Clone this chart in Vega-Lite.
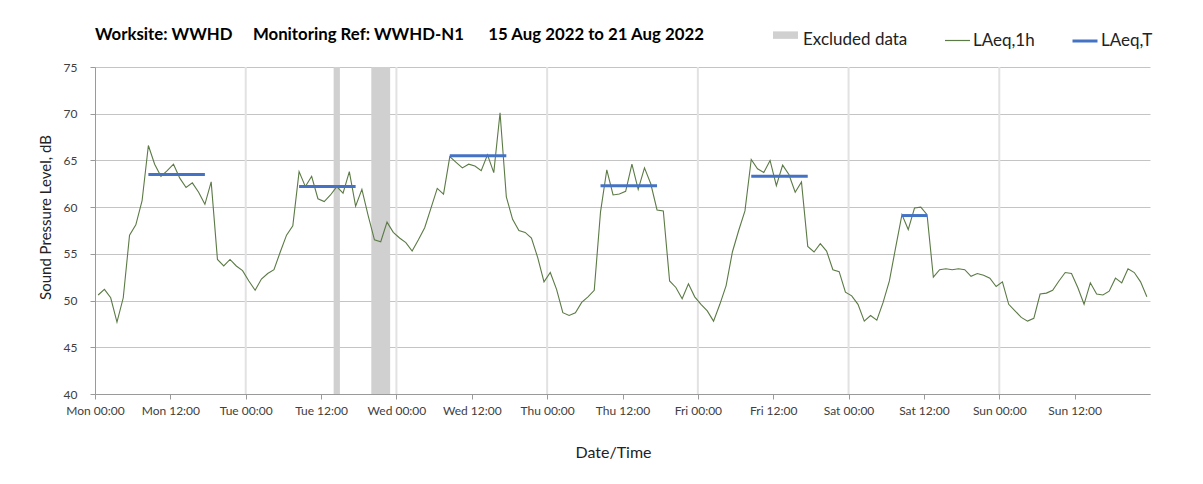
{
  "$schema": "https://vega.github.io/schema/vega-lite/v6.json",
  "width": 1055,
  "height": 327,
  "autosize": {"type": "none"},
  "padding": {"left": 95, "top": 67, "right": 53, "bottom": 90},
  "background": "white",
  "config": {"font": "Lato", "view": {"stroke": null}},
  "title": {
    "text": "Worksite: WWHD\u00a0\u00a0\u00a0\u00a0 Monitoring Ref: WWHD-N1\u00a0\u00a0\u00a0\u00a0\u00a0 15 Aug 2022 to 21 Aug 2022",
    "anchor": "start",
    "frame": "group",
    "fontSize": 16.8,
    "fontWeight": "bold",
    "color": "#000000",
    "offset": 24,
    "dy": 41
  },
  "datasets": {
    "days": [
      {"d": "2022-08-16T00:00"}, {"d": "2022-08-17T00:00"}, {"d": "2022-08-18T00:00"},
      {"d": "2022-08-19T00:00"}, {"d": "2022-08-20T00:00"}, {"d": "2022-08-21T00:00"}
    ],
    "excluded": [
      {"start": "2022-08-16T14:00", "end": "2022-08-16T15:00"},
      {"start": "2022-08-16T20:00", "end": "2022-08-16T23:00"}
    ],
    "laeqT": [
      {"start": "2022-08-15T08:30", "end": "2022-08-15T17:30", "level": 63.5},
      {"start": "2022-08-16T08:30", "end": "2022-08-16T17:30", "level": 62.2},
      {"start": "2022-08-17T08:30", "end": "2022-08-17T17:30", "level": 65.5},
      {"start": "2022-08-18T08:30", "end": "2022-08-18T17:30", "level": 62.3},
      {"start": "2022-08-19T08:30", "end": "2022-08-19T17:30", "level": 63.3},
      {"start": "2022-08-20T08:30", "end": "2022-08-20T12:30", "level": 59.1}
    ],
    "hourly": [
      {"t": "2022-08-15T00:30", "laeq": 50.6}, {"t": "2022-08-15T01:30", "laeq": 51.2}, {"t": "2022-08-15T02:30", "laeq": 50.3}, {"t": "2022-08-15T03:30", "laeq": 47.7},
      {"t": "2022-08-15T04:30", "laeq": 50.3}, {"t": "2022-08-15T05:30", "laeq": 57.0}, {"t": "2022-08-15T06:30", "laeq": 58.1}, {"t": "2022-08-15T07:30", "laeq": 60.7},
      {"t": "2022-08-15T08:30", "laeq": 66.6}, {"t": "2022-08-15T09:30", "laeq": 64.6}, {"t": "2022-08-15T10:30", "laeq": 63.3}, {"t": "2022-08-15T11:30", "laeq": 63.9},
      {"t": "2022-08-15T12:30", "laeq": 64.6}, {"t": "2022-08-15T13:30", "laeq": 63.1}, {"t": "2022-08-15T14:30", "laeq": 62.1}, {"t": "2022-08-15T15:30", "laeq": 62.6},
      {"t": "2022-08-15T16:30", "laeq": 61.6}, {"t": "2022-08-15T17:30", "laeq": 60.3}, {"t": "2022-08-15T18:30", "laeq": 62.7}, {"t": "2022-08-15T19:30", "laeq": 54.4},
      {"t": "2022-08-15T20:30", "laeq": 53.7}, {"t": "2022-08-15T21:30", "laeq": 54.4}, {"t": "2022-08-15T22:30", "laeq": 53.7}, {"t": "2022-08-15T23:30", "laeq": 53.2},
      {"t": "2022-08-16T00:30", "laeq": 52.1}, {"t": "2022-08-16T01:30", "laeq": 51.1}, {"t": "2022-08-16T02:30", "laeq": 52.3}, {"t": "2022-08-16T03:30", "laeq": 52.9},
      {"t": "2022-08-16T04:30", "laeq": 53.3}, {"t": "2022-08-16T05:30", "laeq": 55.2}, {"t": "2022-08-16T06:30", "laeq": 57.0}, {"t": "2022-08-16T07:30", "laeq": 58.0},
      {"t": "2022-08-16T08:30", "laeq": 63.8}, {"t": "2022-08-16T09:30", "laeq": 62.2}, {"t": "2022-08-16T10:30", "laeq": 63.3}, {"t": "2022-08-16T11:30", "laeq": 60.9},
      {"t": "2022-08-16T12:30", "laeq": 60.6}, {"t": "2022-08-16T13:30", "laeq": 61.3}, {"t": "2022-08-16T14:30", "laeq": 62.2}, {"t": "2022-08-16T15:30", "laeq": 61.5},
      {"t": "2022-08-16T16:30", "laeq": 63.8}, {"t": "2022-08-16T17:30", "laeq": 60.1}, {"t": "2022-08-16T18:30", "laeq": 61.9}, {"t": "2022-08-16T19:30", "laeq": 59.1},
      {"t": "2022-08-16T20:30", "laeq": 56.5}, {"t": "2022-08-16T21:30", "laeq": 56.3}, {"t": "2022-08-16T22:30", "laeq": 58.4}, {"t": "2022-08-16T23:30", "laeq": 57.3},
      {"t": "2022-08-17T00:30", "laeq": 56.7}, {"t": "2022-08-17T01:30", "laeq": 56.2}, {"t": "2022-08-17T02:30", "laeq": 55.3}, {"t": "2022-08-17T03:30", "laeq": 56.5},
      {"t": "2022-08-17T04:30", "laeq": 57.8}, {"t": "2022-08-17T05:30", "laeq": 59.9}, {"t": "2022-08-17T06:30", "laeq": 62.0}, {"t": "2022-08-17T07:30", "laeq": 61.4},
      {"t": "2022-08-17T08:30", "laeq": 65.4}, {"t": "2022-08-17T09:30", "laeq": 64.8}, {"t": "2022-08-17T10:30", "laeq": 64.2}, {"t": "2022-08-17T11:30", "laeq": 64.6},
      {"t": "2022-08-17T12:30", "laeq": 64.4}, {"t": "2022-08-17T13:30", "laeq": 63.9}, {"t": "2022-08-17T14:30", "laeq": 65.6}, {"t": "2022-08-17T15:30", "laeq": 63.7},
      {"t": "2022-08-17T16:30", "laeq": 70.1}, {"t": "2022-08-17T17:30", "laeq": 61.1}, {"t": "2022-08-17T18:30", "laeq": 58.7}, {"t": "2022-08-17T19:30", "laeq": 57.5},
      {"t": "2022-08-17T20:30", "laeq": 57.3}, {"t": "2022-08-17T21:30", "laeq": 56.7}, {"t": "2022-08-17T22:30", "laeq": 54.6}, {"t": "2022-08-17T23:30", "laeq": 52.0},
      {"t": "2022-08-18T00:30", "laeq": 53.0}, {"t": "2022-08-18T01:30", "laeq": 51.2}, {"t": "2022-08-18T02:30", "laeq": 48.7}, {"t": "2022-08-18T03:30", "laeq": 48.4},
      {"t": "2022-08-18T04:30", "laeq": 48.7}, {"t": "2022-08-18T05:30", "laeq": 49.8}, {"t": "2022-08-18T06:30", "laeq": 50.4}, {"t": "2022-08-18T07:30", "laeq": 51.1},
      {"t": "2022-08-18T08:30", "laeq": 59.5}, {"t": "2022-08-18T09:30", "laeq": 64.0}, {"t": "2022-08-18T10:30", "laeq": 61.3}, {"t": "2022-08-18T11:30", "laeq": 61.4},
      {"t": "2022-08-18T12:30", "laeq": 61.7}, {"t": "2022-08-18T13:30", "laeq": 64.6}, {"t": "2022-08-18T14:30", "laeq": 61.9}, {"t": "2022-08-18T15:30", "laeq": 64.2},
      {"t": "2022-08-18T16:30", "laeq": 62.5}, {"t": "2022-08-18T17:30", "laeq": 59.7}, {"t": "2022-08-18T18:30", "laeq": 59.6}, {"t": "2022-08-18T19:30", "laeq": 52.1},
      {"t": "2022-08-18T20:30", "laeq": 51.4}, {"t": "2022-08-18T21:30", "laeq": 50.2}, {"t": "2022-08-18T22:30", "laeq": 51.8}, {"t": "2022-08-18T23:30", "laeq": 50.4},
      {"t": "2022-08-19T00:30", "laeq": 49.6}, {"t": "2022-08-19T01:30", "laeq": 48.9}, {"t": "2022-08-19T02:30", "laeq": 47.8}, {"t": "2022-08-19T03:30", "laeq": 49.6},
      {"t": "2022-08-19T04:30", "laeq": 51.6}, {"t": "2022-08-19T05:30", "laeq": 55.2}, {"t": "2022-08-19T06:30", "laeq": 57.5}, {"t": "2022-08-19T07:30", "laeq": 59.6},
      {"t": "2022-08-19T08:30", "laeq": 65.1}, {"t": "2022-08-19T09:30", "laeq": 64.1}, {"t": "2022-08-19T10:30", "laeq": 63.7}, {"t": "2022-08-19T11:30", "laeq": 65.0},
      {"t": "2022-08-19T12:30", "laeq": 62.3}, {"t": "2022-08-19T13:30", "laeq": 64.5}, {"t": "2022-08-19T14:30", "laeq": 63.5}, {"t": "2022-08-19T15:30", "laeq": 61.6},
      {"t": "2022-08-19T16:30", "laeq": 62.7}, {"t": "2022-08-19T17:30", "laeq": 55.8}, {"t": "2022-08-19T18:30", "laeq": 55.2}, {"t": "2022-08-19T19:30", "laeq": 56.1},
      {"t": "2022-08-19T20:30", "laeq": 55.3}, {"t": "2022-08-19T21:30", "laeq": 53.3}, {"t": "2022-08-19T22:30", "laeq": 53.1}, {"t": "2022-08-19T23:30", "laeq": 50.9},
      {"t": "2022-08-20T00:30", "laeq": 50.5}, {"t": "2022-08-20T01:30", "laeq": 49.6}, {"t": "2022-08-20T02:30", "laeq": 47.8}, {"t": "2022-08-20T03:30", "laeq": 48.4},
      {"t": "2022-08-20T04:30", "laeq": 47.9}, {"t": "2022-08-20T05:30", "laeq": 49.8}, {"t": "2022-08-20T06:30", "laeq": 52.1}, {"t": "2022-08-20T07:30", "laeq": 55.7},
      {"t": "2022-08-20T08:30", "laeq": 59.2}, {"t": "2022-08-20T09:30", "laeq": 57.6}, {"t": "2022-08-20T10:30", "laeq": 59.9}, {"t": "2022-08-20T11:30", "laeq": 60.0},
      {"t": "2022-08-20T12:30", "laeq": 59.2}, {"t": "2022-08-20T13:30", "laeq": 52.5}, {"t": "2022-08-20T14:30", "laeq": 53.3}, {"t": "2022-08-20T15:30", "laeq": 53.4},
      {"t": "2022-08-20T16:30", "laeq": 53.3}, {"t": "2022-08-20T17:30", "laeq": 53.4}, {"t": "2022-08-20T18:30", "laeq": 53.3}, {"t": "2022-08-20T19:30", "laeq": 52.6},
      {"t": "2022-08-20T20:30", "laeq": 52.9}, {"t": "2022-08-20T21:30", "laeq": 52.7}, {"t": "2022-08-20T22:30", "laeq": 52.4}, {"t": "2022-08-20T23:30", "laeq": 51.5},
      {"t": "2022-08-21T00:30", "laeq": 52.0}, {"t": "2022-08-21T01:30", "laeq": 49.6}, {"t": "2022-08-21T02:30", "laeq": 48.9}, {"t": "2022-08-21T03:30", "laeq": 48.2},
      {"t": "2022-08-21T04:30", "laeq": 47.8}, {"t": "2022-08-21T05:30", "laeq": 48.1}, {"t": "2022-08-21T06:30", "laeq": 50.7}, {"t": "2022-08-21T07:30", "laeq": 50.8},
      {"t": "2022-08-21T08:30", "laeq": 51.1}, {"t": "2022-08-21T09:30", "laeq": 52.1}, {"t": "2022-08-21T10:30", "laeq": 53.0}, {"t": "2022-08-21T11:30", "laeq": 52.9},
      {"t": "2022-08-21T12:30", "laeq": 51.4}, {"t": "2022-08-21T13:30", "laeq": 49.6}, {"t": "2022-08-21T14:30", "laeq": 51.9}, {"t": "2022-08-21T15:30", "laeq": 50.7},
      {"t": "2022-08-21T16:30", "laeq": 50.6}, {"t": "2022-08-21T17:30", "laeq": 51.0}, {"t": "2022-08-21T18:30", "laeq": 52.4}, {"t": "2022-08-21T19:30", "laeq": 51.9},
      {"t": "2022-08-21T20:30", "laeq": 53.4}, {"t": "2022-08-21T21:30", "laeq": 53.0}, {"t": "2022-08-21T22:30", "laeq": 52.0}, {"t": "2022-08-21T23:30", "laeq": 50.4}
    ]
  },
  "layer": [
    {
      "data": {"name": "days"},
      "mark": {"type": "rule", "color": "#e2e2e2", "strokeWidth": 2},
      "encoding": {
        "x": {
          "field": "d", "type": "temporal",
          "scale": {"domain": [{"year": 2022, "month": 8, "date": 15, "hours": 0}, {"year": 2022, "month": 8, "date": 22, "hours": 0}], "nice": false},
          "axis": {
            "title": "Date/Time",
            "format": "%a %H:%M",
            "values": [
              {"year": 2022, "month": 8, "date": 15, "hours": 0}, {"year": 2022, "month": 8, "date": 15, "hours": 12},
              {"year": 2022, "month": 8, "date": 16, "hours": 0}, {"year": 2022, "month": 8, "date": 16, "hours": 12},
              {"year": 2022, "month": 8, "date": 17, "hours": 0}, {"year": 2022, "month": 8, "date": 17, "hours": 12},
              {"year": 2022, "month": 8, "date": 18, "hours": 0}, {"year": 2022, "month": 8, "date": 18, "hours": 12},
              {"year": 2022, "month": 8, "date": 19, "hours": 0}, {"year": 2022, "month": 8, "date": 19, "hours": 12},
              {"year": 2022, "month": 8, "date": 20, "hours": 0}, {"year": 2022, "month": 8, "date": 20, "hours": 12},
              {"year": 2022, "month": 8, "date": 21, "hours": 0}, {"year": 2022, "month": 8, "date": 21, "hours": 12}
            ],
            "labelFontSize": 12,
            "labelColor": "#404040",
            "labelPadding": 6,
            "labelAngle": 0,
            "labelFlush": false,
            "labelOverlap": false,
            "tickSize": 5,
            "tickColor": "#9a9a9a",
            "domainColor": "#9a9a9a",
            "grid": false,
            "titleFontSize": 16,
            "titleFontWeight": "normal",
            "titleColor": "#222222",
            "titleX": 518,
            "titleY": 58,
            "titleBaseline": "middle"
          }
        }
      }
    },
    {
      "data": {"name": "excluded"},
      "mark": {"type": "rect"},
      "encoding": {
        "x": {"field": "start", "type": "temporal"},
        "x2": {"field": "end"},
        "fill": {
          "datum": "Excluded data", "type": "nominal",
          "scale": {"domain": ["Excluded data"], "range": ["#d0d0d0"]},
          "legend": {
            "orient": "none",
            "legendX": 678,
            "legendY": -40,
            "title": null,
            "labelFontSize": 17,
            "labelColor": "#222222",
            "labelOffset": 5,
            "symbolType": "M-1,-0.65H1V-0.05H-1Z",
            "symbolSize": 625,
            "symbolStrokeWidth": 0,
            "symbolFillColor": "#d0d0d0"
          }
        }
      }
    },
    {
      "data": {"name": "hourly"},
      "mark": {"type": "line", "strokeWidth": 1.1},
      "encoding": {
        "x": {"field": "t", "type": "temporal"},
        "y": {
          "field": "laeq", "type": "quantitative",
          "scale": {"domain": [40, 75], "nice": false, "zero": false},
          "axis": {
            "title": "Sound Pressure Level, dB",
            "values": [40, 45, 50, 55, 60, 65, 70, 75],
            "labelFontSize": 12,
            "labelColor": "#404040",
            "labelPadding": 13,
            "tickSize": 5,
            "tickColor": "#9a9a9a",
            "domainColor": "#9a9a9a",
            "grid": true,
            "gridColor": "#c4c4c4",
            "gridWidth": 1,
            "titleFontSize": 15,
            "titleFontWeight": "normal",
            "titleColor": "#222222",
            "titleX": -50,
            "titleY": 150,
            "titleAngle": 270,
            "titleAlign": "center",
            "titleBaseline": "middle"
          }
        },
        "stroke": {
          "datum": "LAeq,1h", "type": "nominal",
          "scale": {"domain": ["LAeq,1h"], "range": ["#5b7a45"]},
          "legend": {
            "orient": "none",
            "legendX": 849,
            "legendY": -40,
            "title": null,
            "labelFontSize": 17,
            "labelColor": "#222222",
            "labelOffset": 2,
            "symbolType": "stroke",
            "symbolSize": 625,
            "symbolStrokeWidth": 1.2
          }
        }
      }
    },
    {
      "data": {"name": "laeqT"},
      "mark": {"type": "rule", "strokeWidth": 3},
      "encoding": {
        "x": {"field": "start", "type": "temporal"},
        "x2": {"field": "end"},
        "y": {"field": "level", "type": "quantitative"},
        "color": {
          "datum": "LAeq,T", "type": "nominal",
          "scale": {"domain": ["LAeq,T"], "range": ["#4472c4"]},
          "legend": {
            "orient": "none",
            "legendX": 976,
            "legendY": -40,
            "title": null,
            "labelFontSize": 17,
            "labelColor": "#222222",
            "labelOffset": 2,
            "symbolType": "stroke",
            "symbolSize": 625,
            "symbolStrokeWidth": 3
          }
        }
      }
    }
  ]
}
